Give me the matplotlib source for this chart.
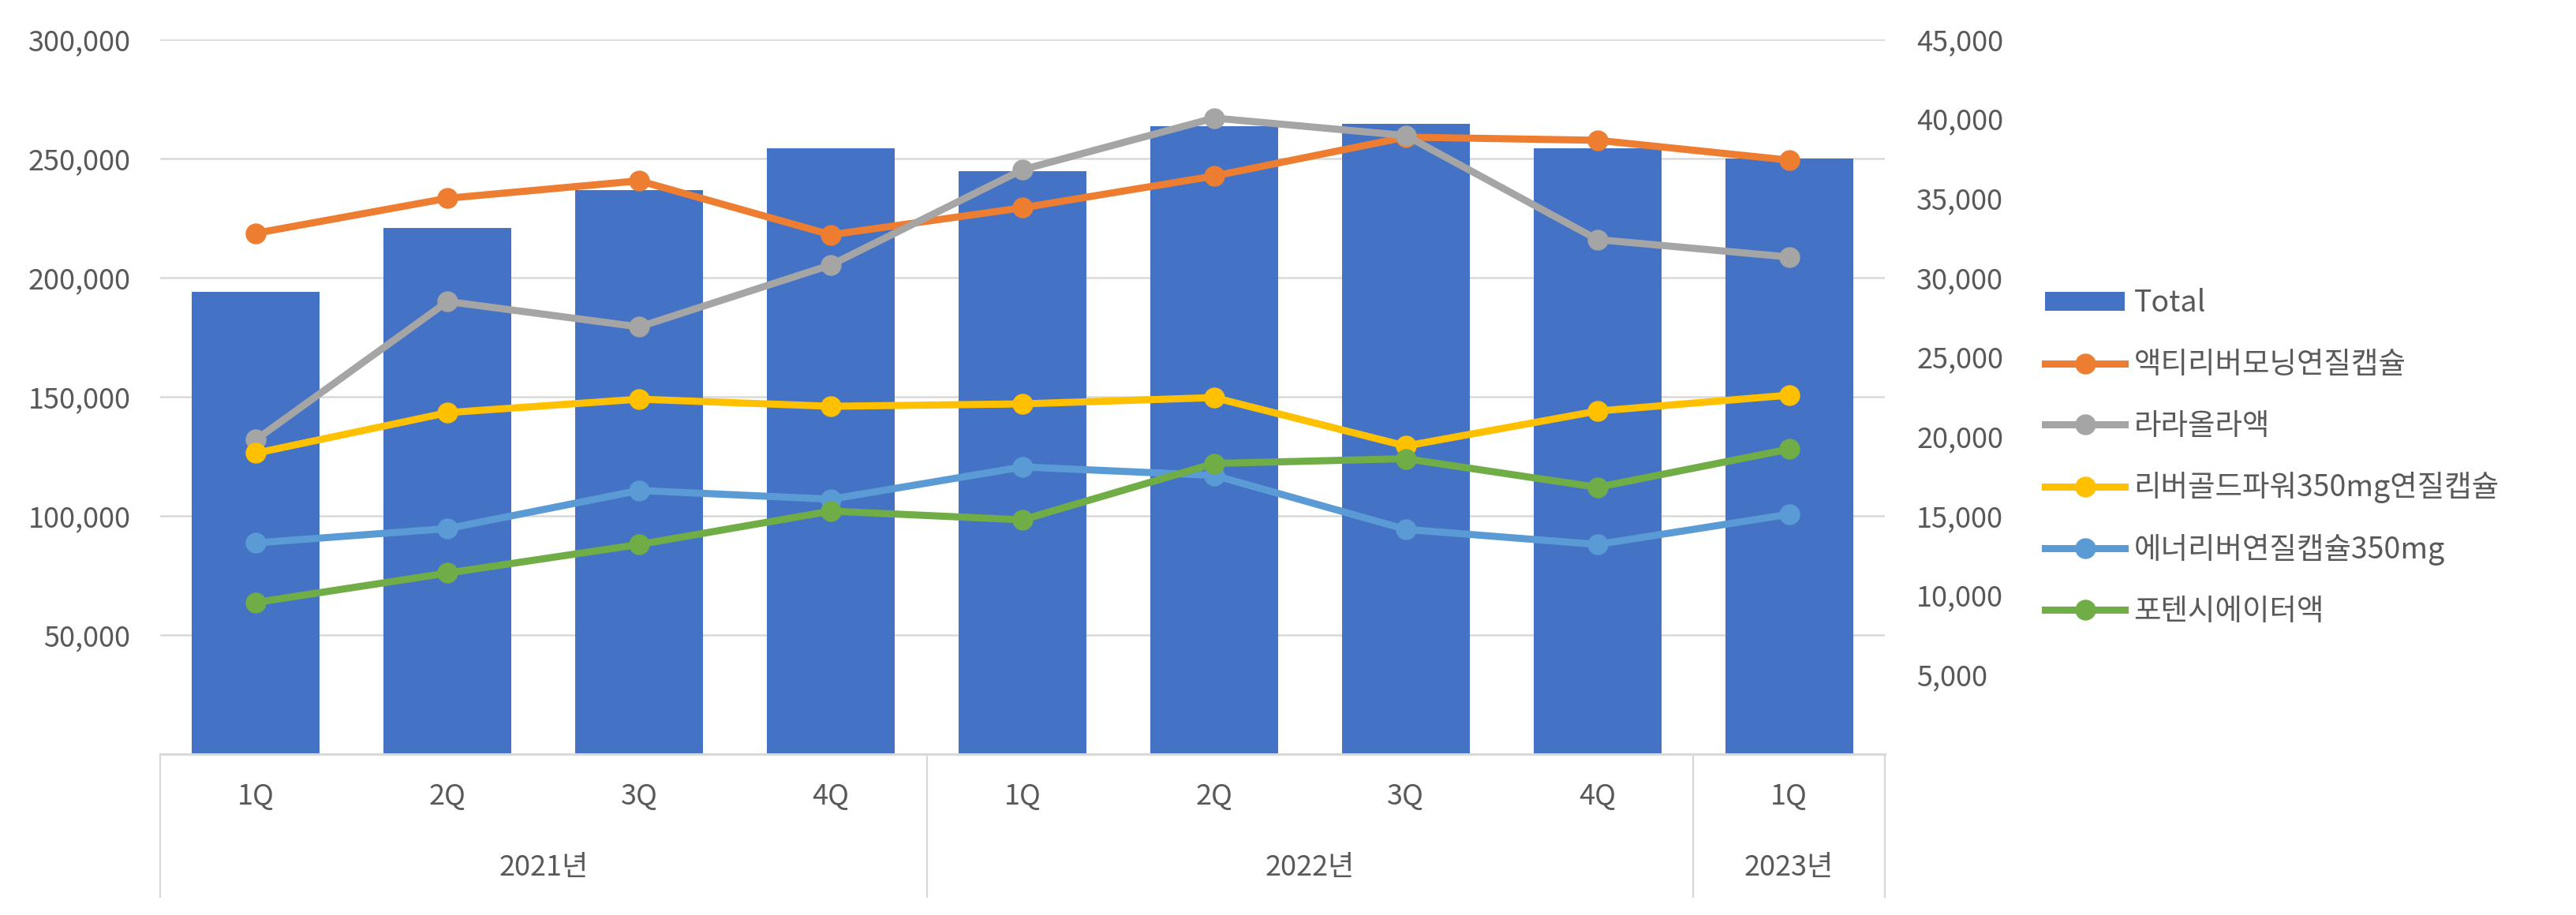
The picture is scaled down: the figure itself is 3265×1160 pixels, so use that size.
import matplotlib.pyplot as plt
import matplotlib.ticker as mticker
from matplotlib.lines import Line2D
from matplotlib.patches import Patch

plt.rcParams['font.family'] = ['Noto Sans CJK KR', 'DejaVu Sans']

# data
quarters = ["1Q", "2Q", "3Q", "4Q", "1Q", "2Q", "3Q", "4Q", "1Q"]
years = ["2021년", "2022년", "2023년"]
year_counts = [4, 4, 1]
total = [194000, 220800, 236800, 254200, 244700, 263600, 264600, 254200, 250000]
active = [32800, 35000, 36100, 32700, 34400, 36400, 38850, 38650, 37400]
lalaol = [19800, 28500, 26900, 30800, 36800, 40050, 38950, 32400, 31300]
livergold = [18950, 21500, 22350, 21900, 22050, 22450, 19400, 21600, 22600]
energy = [13300, 14200, 16600, 16050, 18080, 17550, 14150, 13200, 15100]
potency = [9550, 11400, 13200, 15300, 14750, 18300, 18600, 16800, 19200]

names = ["액티리버모닝연질캡슐", "라라올라액", "리버골드파워350mg연질캡슐",
         "에너리버연질캡슐350mg", "포텐시에이터액"]
colors = ["#ED7D31", "#A5A5A5", "#FFC000", "#5B9BD5", "#70AD47"]
bar_color = "#4472C4"
grid_c = "#D9D9D9"
text_c = "#595959"
fs = 26

fig = plt.figure(figsize=(32.66, 11.6), dpi=100)
ax = fig.add_axes([203/3266, 1-956/1160, (2389-203)/3266, 906/1160])
x = list(range(len(total)))

ax.bar(x, total, width=0.667, color=bar_color, zorder=2)
ax.set_ylim(0, 300000)
ax.set_xlim(-0.5, 8.5)
ax.set_yticks([50000, 100000, 150000, 200000, 250000, 300000])
ax.yaxis.set_major_formatter(mticker.FuncFormatter(lambda v, p: "{:,.0f}".format(v)))
ax.grid(axis='y', color=grid_c, lw=1.8)
ax.set_axisbelow(True)
ax.set_xticks([])
ax.tick_params(axis='y', length=0, pad=27, labelsize=fs, labelcolor=text_c)
for s in ['top', 'left', 'right']:
    ax.spines[s].set_visible(False)
ax.spines['bottom'].set_color(grid_c)
ax.spines['bottom'].set_linewidth(2.2)

ax2 = ax.twinx()
for vals, c in zip([active, lalaol, livergold, energy, potency], colors):
    ax2.plot(x, vals, color=c, lw=6.5, marker='o', ms=18, zorder=3)
ax2.set_ylim(0, 45000)
ax2.set_yticks(list(range(5000, 45001, 5000)))
ax2.yaxis.set_major_formatter(mticker.FuncFormatter(lambda v, p: "{:,.0f}".format(v)))
ax2.tick_params(axis='y', length=0, pad=29, labelsize=fs, labelcolor=text_c)
for s in ax2.spines.values():
    s.set_visible(False)

# two-level category axis
trans = ax.get_xaxis_transform()
for i, q in enumerate(quarters):
    ax.text(i, -0.06, q, transform=trans, ha='center', va='center',
            fontsize=fs, color=text_c)
start = 0
bounds = [-0.5]
for yname, n in zip(years, year_counts):
    ax.text(start + (n - 1) / 2, -0.159, yname, transform=trans, ha='center',
            va='center', fontsize=fs, color=text_c)
    start += n
    bounds.append(start - 0.5)
for b in bounds:
    ax.plot([b, b], [0, -0.2], transform=trans, color=grid_c, lw=1.6, clip_on=False)

handles = [Patch(facecolor=bar_color, label="Total")]
for n, c in zip(names, colors):
    handles.append(Line2D([0], [0], color=c, lw=6.5, marker='o', ms=18, label=n))
fig.legend(handles=handles, loc='center left', bbox_to_anchor=(2592/3266, 1-580/1160),
           frameon=False, fontsize=27, labelcolor=text_c, handlelength=2.7,
           handleheight=0.6, handletextpad=0.3, labelspacing=1.03, borderpad=0,
           borderaxespad=0)

fig.savefig("out.png", dpi=100)
